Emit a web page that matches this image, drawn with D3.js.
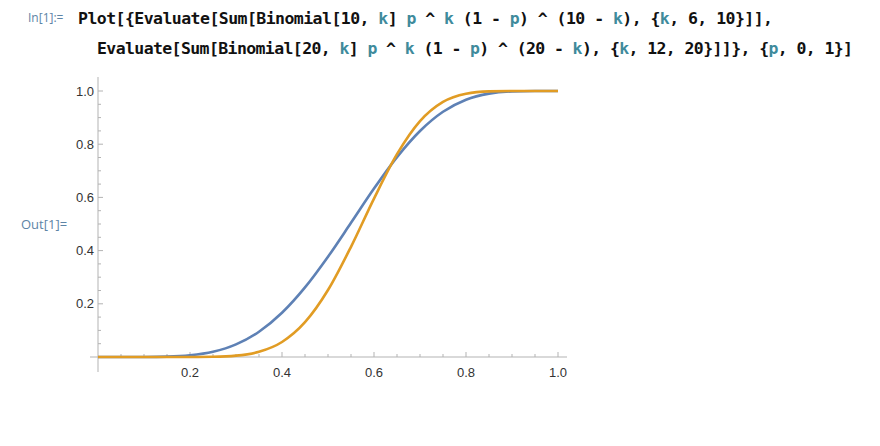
<!DOCTYPE html>
<html><head><meta charset="utf-8">
<script src="https://cdn.jsdelivr.net/npm/d3@7"></script>
<style>body{margin:0;background:#fff}svg{display:block}</style>
</head><body><svg id="c" width="880" height="446"></svg>
<script>
// data
const pValues = [0,0.05,0.1,0.15,0.2,0.25,0.3,0.35,0.4,0.45,0.5,0.55,0.6,0.65,0.7,0.75,0.8,0.85,0.9,0.95,1];
const seriesN10 = [0,0,0.0002,0.0014,0.0064,0.0197,0.0473,0.0949,0.1662,0.2616,0.377,0.5044,0.6331,0.7515,0.8497,0.9219,0.9672,0.9901,0.9984,0.9999,1];
const seriesN20 = [0,0,0,0,0.0001,0.0009,0.0051,0.0196,0.0565,0.1308,0.2517,0.4143,0.5956,0.7624,0.8867,0.9591,0.99,0.9987,0.9999,1,1];
const xTicks = [0.2,0.4,0.6,0.8,1.0];
const yTicks = [0.2,0.4,0.6,0.8,1.0];
const minorTicks = d3.range(0,1.0001,0.05);
const codeLine1 = [["Plot[{Evaluate[Sum[Binomial[10, ",0],["k",1],["] ",0],["p",1],[" ^ ",0],["k",1],[" (1 - ",0],["p",1],[") ^ (10 - ",0],["k",1],["), {",0],["k",1],[", 6, 10}]],",0]];
const codeLine2 = [["Evaluate[Sum[Binomial[20, ",0],["k",1],["] ",0],["p",1],[" ^ ",0],["k",1],[" (1 - ",0],["p",1],[") ^ (20 - ",0],["k",1],["), {",0],["k",1],[", 12, 20}]]}, {",0],["p",1],[", 0, 1}]",0]];

const svg = d3.select("#c");
const x = d3.scaleLinear().domain([0,1]).range([98,558]);
const y = d3.scaleLinear().domain([0,1]).range([357,91]);
const axisCol = "#b3b3b3";

// code text
function codeLine(parts, x0, yb, len){
  const t = svg.append("text").attr("x",x0).attr("y",yb)
    .attr("font-family","DejaVu Sans Mono").attr("font-weight","bold").attr("font-size",16.5)
    .attr("textLength",len).attr("lengthAdjust","spacing").attr("xml:space","preserve").style("white-space","pre");
  parts.forEach(([s,v])=>t.append("tspan").attr("fill",v?"#3f8b9c":"#111").text(s));
}
codeLine(codeLine1,78,23.5,695);
codeLine(codeLine2,97,53.5,756);
svg.append("text").attr("x",28).attr("y",22).attr("font-family","Open Sans").attr("font-size",12).attr("fill","#5d84a6").text("In[1]:=");
svg.append("text").attr("x",21).attr("y",229).attr("font-family","Open Sans").attr("font-size",13).attr("fill","#5d84a6").text("Out[1]=");

// axes lines
svg.append("line").attr("x1",90).attr("x2",567).attr("y1",y(0)).attr("y2",y(0)).attr("stroke",axisCol);
svg.append("line").attr("x1",x(0)).attr("x2",x(0)).attr("y1",77).attr("y2",372).attr("stroke",axisCol);

// ticks
minorTicks.forEach(v=>{
  if (v<0.01) return;
  const major = Math.abs(v*5-Math.round(v*5))<1e-6;
  svg.append("line").attr("x1",x(v)).attr("x2",x(v)).attr("y1",y(0)).attr("y2",y(0)-(major?5:3)).attr("stroke",axisCol);
  svg.append("line").attr("x1",x(0)).attr("x2",x(0)+(major?5:3)).attr("y1",y(v)).attr("y2",y(v)).attr("stroke",axisCol);
});
xTicks.forEach(v=>svg.append("text").attr("x",x(v)).attr("y",y(0)+20).attr("text-anchor","middle")
  .attr("font-family","Liberation Sans").attr("font-size",13).attr("fill","#333").text(v.toFixed(1)));
yTicks.forEach(v=>svg.append("text").attr("x",x(0)-4).attr("y",y(v)+4.5).attr("text-anchor","end")
  .attr("font-family","Liberation Sans").attr("font-size",13).attr("fill","#333").text(v.toFixed(1)));

// curves
const line = d3.line().x((d,i)=>x(pValues[i])).y(d=>y(d)).curve(d3.curveMonotoneX);
svg.append("path").attr("d",line(seriesN10)).attr("fill","none").attr("stroke","#5e81b5").attr("stroke-width",2.6);
svg.append("path").attr("d",line(seriesN20)).attr("fill","none").attr("stroke","#e19c24").attr("stroke-width",2.6);
</script></body></html>
